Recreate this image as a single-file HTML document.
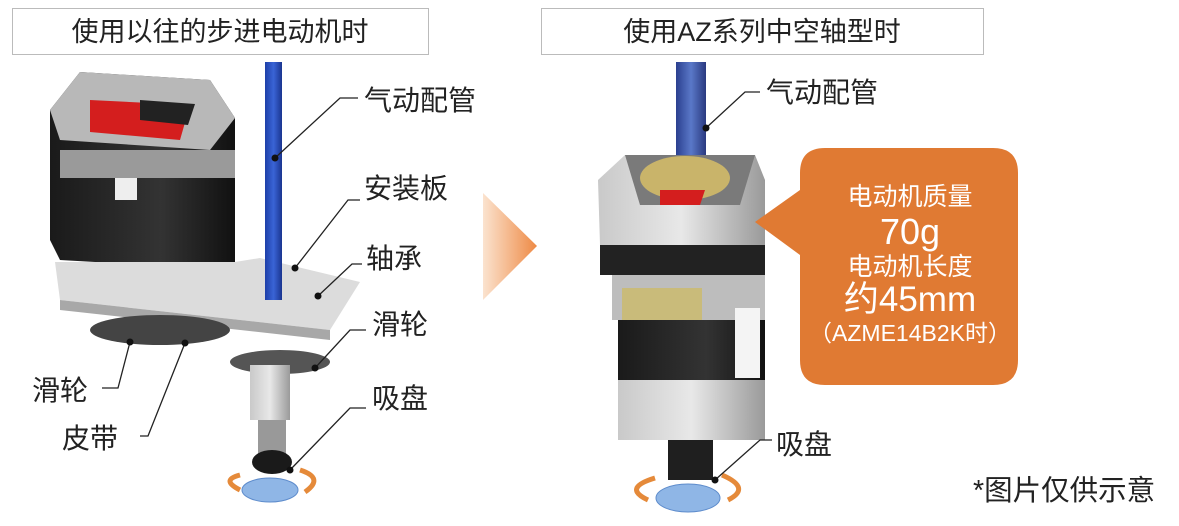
<!DOCTYPE html>
<html><head><meta charset="utf-8"><style>
body{margin:0;background:#fff;}
svg{display:block;}
text{font-family:"Liberation Sans","Noto Sans CJK SC",sans-serif;}
</style></head><body>
<svg width="1179" height="526" viewBox="0 0 1179 526" xmlns="http://www.w3.org/2000/svg">
<defs>
<linearGradient id="tri" x1="0" x2="1"><stop offset="0" stop-color="#fbe3cf"/><stop offset="1" stop-color="#ee8a45"/></linearGradient>
<linearGradient id="metal" x1="0" x2="1"><stop offset="0" stop-color="#c9c9c9"/><stop offset="0.5" stop-color="#e8e8e8"/><stop offset="1" stop-color="#9a9a9a"/></linearGradient>
<linearGradient id="blk" x1="0" x2="1"><stop offset="0" stop-color="#1a1a1a"/><stop offset="0.6" stop-color="#333"/><stop offset="1" stop-color="#111"/></linearGradient>
<linearGradient id="tube" x1="0" x2="1"><stop offset="0" stop-color="#1d3fa8"/><stop offset="0.5" stop-color="#3a64d6"/><stop offset="1" stop-color="#1a3590"/></linearGradient>
<linearGradient id="tube2" x1="0" x2="1"><stop offset="0" stop-color="#2a3f8f"/><stop offset="0.5" stop-color="#5a78c8"/><stop offset="1" stop-color="#2a3a80"/></linearGradient>
</defs>
<rect x="12.5" y="8.5" width="416" height="46" fill="#fff" stroke="#bbb"/>
<text x="220" y="41" font-size="27" text-anchor="middle" fill="#222">使用以往的步进电动机时</text>
<rect x="541.5" y="8.5" width="442" height="46" fill="#fff" stroke="#bbb"/>
<text x="762" y="41" font-size="27" text-anchor="middle" fill="#222">使用AZ系列中空轴型时</text>
<polygon points="483,193 537,246 483,300" fill="url(#tri)"/>

<!-- LEFT motor -->
<polygon points="50,110 80,72 210,80 235,118 235,270 60,260 50,240" fill="url(#blk)"/>
<polygon points="50,110 80,72 210,80 235,118 210,150 60,140" fill="#b8b8b8"/>
<polygon points="90,100 190,105 180,140 90,132" fill="#d41e1e"/>
<polygon points="140,100 195,104 188,125 140,120" fill="#222"/>
<rect x="60" y="150" width="175" height="28" fill="#9a9a9a"/>
<rect x="115" y="178" width="22" height="22" fill="#eee"/>
<polygon points="55,262 235,262 260,258 360,282 330,330 60,300" fill="#dcdcdc"/>
<polygon points="60,300 330,330 330,340 60,310" fill="#a8a8a8"/>
<ellipse cx="160" cy="330" rx="70" ry="15" fill="#444"/>
<ellipse cx="280" cy="362" rx="50" ry="12" fill="#555"/>
<rect x="250" y="365" width="40" height="55" fill="url(#metal)"/>
<rect x="258" y="420" width="28" height="35" fill="#999"/>
<ellipse cx="272" cy="462" rx="20" ry="12" fill="#1a1a1a"/>
<ellipse cx="270" cy="490" rx="28" ry="12" fill="#8fb6e6" stroke="#5e8ccc"/>
<path d="M240,475 Q220,480 240,490" stroke="#e58a3a" stroke-width="5" fill="none"/>
<path d="M300,470 Q325,478 305,492" stroke="#e58a3a" stroke-width="5" fill="none"/>
<rect x="265" y="62" width="17" height="238" fill="url(#tube)"/>

<!-- RIGHT motor -->
<rect x="676" y="62" width="30" height="128" fill="url(#tube2)"/>
<polygon points="598,180 625,155 755,155 765,180 765,250 600,245" fill="url(#metal)"/>
<polygon points="625,155 755,155 740,205 640,205" fill="#7a7a7a"/>
<ellipse cx="685" cy="178" rx="45" ry="22" fill="#c9b46a"/>
<polygon points="660,190 705,190 700,205 660,205" fill="#d41e1e"/>
<rect x="600" y="245" width="165" height="30" fill="#222"/>
<rect x="612" y="275" width="153" height="45" fill="#bdbdbd"/>
<rect x="622" y="288" width="80" height="32" fill="#c9bb7a"/>
<rect x="618" y="320" width="147" height="60" fill="url(#blk)"/>
<rect x="618" y="380" width="147" height="60" fill="url(#metal)"/>
<rect x="735" y="308" width="25" height="70" fill="#f4f4f4"/>
<rect x="668" y="440" width="45" height="40" fill="#1f1f1f"/>
<ellipse cx="688" cy="498" rx="32" ry="14" fill="#8fb6e6" stroke="#5e8ccc"/>
<path d="M655,478 Q622,488 648,500" stroke="#e58a3a" stroke-width="5" fill="none"/>
<path d="M722,475 Q752,488 728,500" stroke="#e58a3a" stroke-width="5" fill="none"/>

<path d="M825,148 H993 Q1018,148 1018,173 V360 Q1018,385 993,385 H825 Q800,385 800,360 V255 L755,222 L800,190 V173 Q800,148 825,148 Z" fill="#e07a33"/>
<g fill="#fff" text-anchor="middle">
<text x="910" y="205" font-size="25">电动机质量</text>
<text x="910" y="244" font-size="36">70g</text>
<text x="910" y="275" font-size="25">电动机长度</text>
<text x="910" y="311" font-size="35">约45mm</text>
<text x="910" y="341" font-size="23">（AZME14B2K时）</text>
</g>

<g stroke="#222" stroke-width="1.3" fill="none">
<polyline points="275,158 340,98 358,98"/>
<polyline points="295,268 348,200 360,200"/>
<polyline points="318,296 352,264 362,264"/>
<polyline points="315,368 350,330 366,330"/>
<polyline points="290,470 350,408 366,408"/>
<polyline points="102,388 118,388 130,342"/>
<polyline points="140,436 148,436 185,343"/>
<polyline points="706,128 745,92 760,92"/>
<polyline points="715,480 760,440 772,440"/>
</g>
<g fill="#111">
<circle cx="275" cy="158" r="3.5"/><circle cx="295" cy="268" r="3.5"/><circle cx="318" cy="296" r="3.5"/>
<circle cx="315" cy="368" r="3.5"/><circle cx="290" cy="470" r="3.5"/><circle cx="130" cy="342" r="3.5"/>
<circle cx="185" cy="343" r="3.5"/><circle cx="706" cy="128" r="3.5"/><circle cx="715" cy="480" r="3.5"/>
</g>
<g font-size="28" fill="#222">
<text x="364" y="110">气动配管</text>
<text x="364" y="198">安装板</text>
<text x="366" y="268">轴承</text>
<text x="372" y="334">滑轮</text>
<text x="372" y="408">吸盘</text>
<text x="32" y="400">滑轮</text>
<text x="62" y="448">皮带</text>
<text x="766" y="102">气动配管</text>
<text x="776" y="454">吸盘</text>
<text x="973" y="500" font-size="28.5">*图片仅供示意</text>
</g>
</svg>
</body></html>
